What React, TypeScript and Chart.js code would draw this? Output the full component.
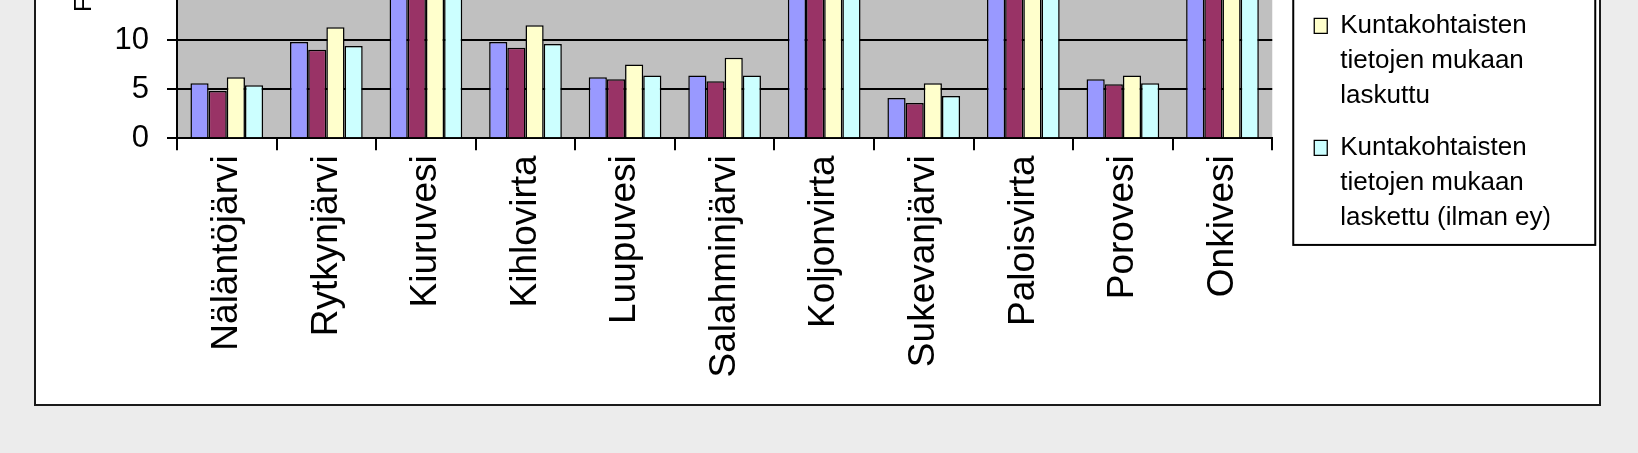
import React, { useEffect, useRef } from 'react';
import { Chart, registerables } from 'chart.js';

Chart.register(...registerables);

// ---- data ----
const categories = [
  'Näläntöjärvi', 'Rytkynjärvi', 'Kiuruvesi', 'Kihlovirta', 'Luupuvesi',
  'Salahminjärvi', 'Koljonvirta', 'Sukevanjärvi', 'Paloisvirta', 'Porovesi', 'Onkivesi',
];

const seriesNames = [
  'Valtakunnallisten\ntietojen mukaan\nlaskettu',
  'Valtakunnallisten\ntietojen mukaan\nlaskettu (ilman ey)',
  'Kuntakohtaisten\ntietojen mukaan\nlaskuttu',
  'Kuntakohtaisten\ntietojen mukaan\nlaskettu (ilman ey)',
];

const seriesA = [5.6, 9.8, 21.5, 9.8, 6.2, 6.4, 40.2, 4.1, 47.3, 6.0, 28.4];
const seriesB = [4.8, 9.0, 19.8, 9.2, 6.0, 5.8, 37.5, 3.6, 44.1, 5.5, 26.2];
const seriesC = [6.2, 11.3, 24.3, 11.5, 7.5, 8.2, 45.8, 5.6, 52.6, 6.4, 31.7];
const seriesD = [5.4, 9.4, 20.6, 9.6, 6.4, 6.4, 39.1, 4.3, 46.0, 5.6, 27.5];

const seriesColors = ['#9999ff', '#993366', '#ffffcc', '#ccffff'];

const yAxisTitle = 'Fosforikuormitus (kg/vuosi)';
const yMin = 0;
const yMax = 55;
const yStep = 5;

// ---- layout ----
const W = 1563;
const H = 834;
const FONT = "'Liberation Sans', Arial, Helvetica, sans-serif";

const plotBg = {
  id: 'plotBg',
  beforeDraw(chart: any) {
    const { ctx, chartArea: a } = chart;
    ctx.save();
    ctx.fillStyle = '#c0c0c0';
    ctx.fillRect(a.left, a.top, a.right - a.left, a.bottom - a.top);
    ctx.restore();
  },
};

const legendFrame = {
  id: 'legendFrame',
  afterDraw(chart: any) {
    const lg = chart.legend;
    const hb = lg && lg.legendHitBoxes;
    if (!hb || !hb.length) return;
    const { ctx } = chart;
    const top = hb[0].top - 9;
    const last = hb[hb.length - 1];
    const bottom = last.top + last.height + 5;
    const left = lg.left - 4;
    ctx.save();
    ctx.strokeStyle = '#000';
    ctx.lineWidth = 2;
    ctx.strokeRect(left, top, 302, bottom - top);
    ctx.restore();
  },
};

export default function App() {
  const ref = useRef<HTMLCanvasElement>(null);

  useEffect(() => {
    const canvas = ref.current;
    if (!canvas) return;
    Chart.defaults.font.family = FONT;
    const data = [seriesA, seriesB, seriesC, seriesD];
    const chart = new Chart(canvas, {
      type: 'bar',
      data: {
        labels: categories,
        datasets: data.map((d, i) => ({
          label: seriesNames[i],
          data: d,
          backgroundColor: seriesColors[i],
          borderColor: '#000',
          borderWidth: 1.5,
          categoryPercentage: 0.73,
          barPercentage: 1.0,
        })),
      },
      options: {
        responsive: false,
        animation: false,
        devicePixelRatio: 1,
        layout: { padding: { top: 27.65, right: 49.5, left: 0, bottom: 0 } },
        plugins: {
          tooltip: { enabled: false },
          legend: {
            position: 'right',
            align: 'center',
            title: { display: true, text: '', font: { size: 6, lineHeight: 1.2 } },
            labels: {
              color: '#000',
              boxWidth: 13,
              boxHeight: 15,
              padding: 17,
              font: { family: FONT, size: 26, lineHeight: 35 / 26 },
              generateLabels: (ch: any) => {
                const items = Chart.defaults.plugins.legend.labels.generateLabels(ch);
                return items.map((it: any) => ({
                  ...it,
                  text: String(it.text).split('\n'),
                  strokeStyle: '#000',
                  lineWidth: 1.3,
                }));
              },
            },
          },
        },
        scales: {
          x: {
            type: 'category',
            offset: true,
            grid: {
              offset: true,
              drawOnChartArea: false,
              drawTicks: true,
              tickLength: 12,
              color: '#000',
              lineWidth: 2,
            },
            border: { display: true, color: '#000', width: 2 },
            ticks: {
              color: '#000',
              font: { family: FONT, size: 37 },
              minRotation: 90,
              maxRotation: 90,
              autoSkip: false,
              padding: 5,
            },
            afterFit: (s: any) => {
              s.height = 265.7;
              s.paddingLeft = 0;
              s.paddingRight = 0;
            },
          },
          y: {
            type: 'linear',
            position: 'left',
            min: yMin,
            max: yMax,
            grid: { color: '#000', lineWidth: 2, drawTicks: true, tickLength: 10 },
            border: { display: true, color: '#000', width: 2 },
            ticks: {
              stepSize: yStep,
              color: '#000',
              padding: 18,
              font: { family: FONT, size: 31 },
            },
            title: {
              display: true,
              text: yAxisTitle,
              color: '#000',
              font: { family: FONT, size: 24 },
              padding: { top: 33.6, bottom: 0 },
            },
            afterFit: (s: any) => {
              s.width = 141;
              s.paddingTop = 0;
              s.paddingBottom = 0;
            },
          },
          gap: {
            type: 'linear',
            position: 'right',
            display: true,
            grid: { display: false, drawTicks: false },
            border: { display: false },
            ticks: { display: false },
            afterFit: (s: any) => {
              s.width = 25;
              s.paddingTop = 0;
              s.paddingBottom = 0;
            },
          },
        },
      },
      plugins: [plotBg, legendFrame],
    } as any);
    return () => chart.destroy();
  }, []);

  return (
    <div
      style={{
        position: 'absolute',
        left: 0,
        top: 0,
        width: 1638,
        height: 453,
        overflow: 'hidden',
        background: '#ececec',
      }}
    >
      <div
        style={{
          position: 'absolute',
          left: 34,
          top: 404 - H - 2,
          width: W,
          height: H,
          border: '2px solid #1a1a1a',
          background: '#ffffff',
        }}
      >
        <canvas ref={ref} width={W} height={H} style={{ display: 'block', width: W, height: H }} />
      </div>
    </div>
  );
}
